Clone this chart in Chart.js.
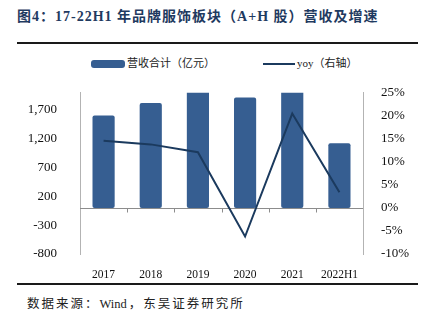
<!DOCTYPE html>
<html>
<head>
<meta charset="utf-8">
<script src="https://cdn.jsdelivr.net/npm/chart.js@4.4.1/dist/chart.umd.min.js"></script>
<style>
  html, body { margin: 0; padding: 0; background: #fff; }
  body { width: 431px; height: 322px; position: relative; overflow: hidden; }
  #title {
    position: absolute; left: 17px; top: 5px; white-space: nowrap;
    font: bold 14px "Liberation Serif", "Noto Sans CJK SC", serif;
    letter-spacing: 1px; color: #1F3A60;
  }
  #titleRule { position: absolute; left: 17px; width: 401px; top: 42px; height: 2px; background: #1a1a1a; }
  #legend {
    position: absolute; top: 55px; left: 0; width: 431px; height: 16px;
    font: 11px "Liberation Serif", "Noto Sans CJK SC", serif; color: #222;
  }
  .item { position: absolute; top: 0; height: 16px; line-height: 16px; white-space: nowrap; }
  .item i { display: inline-block; vertical-align: middle; margin-right: 2px; }
  #chartBox { position: absolute; left: 0; top: 70px; width: 431px; height: 210px; }
  #footRule { position: absolute; left: 17px; width: 401px; top: 283px; height: 2px; background: #1a1a1a; }
  #foot {
    position: absolute; left: 27px; top: 293px; white-space: nowrap;
    font: 12.5px "Liberation Serif", "Noto Sans CJK SC", serif; letter-spacing: 2px; color: #222;
  }
  #foot span { letter-spacing: 0; margin-right: 2px; }
</style>
</head>
<body>
<div id="title">图4：17-22H1 年品牌服饰板块（A+H 股）营收及增速</div>
<div id="titleRule"></div>
<div id="legend"></div>
<div id="chartBox"><canvas id="c" width="431" height="210"></canvas></div>
<div id="footRule"></div>
<div id="foot">数据来源：<span>Wind</span>，东吴证券研究所</div>

<script>
// data
const years = ['2017', '2018', '2019', '2020', '2021', '2022H1'];
const revenue = [1604, 1822, 2040, 1918, 2302, 1124];   // 亿元, 2019/2021 run past the top of the axis
const yoy = [14.6, 13.8, 12.1, -6.2, 20.5, 3.4];         // %
const leftTicks = [-800, -300, 200, 700, 1200, 1700];

const barColor = '#365E91';
const lineColor = '#1B3A5E';
const axisColor = '#B3B3B3';

// horizontal line through zero with small marks between categories
const zeroLine = {
  id: 'zeroLine',
  beforeDatasetsDraw(chart) {
    const { ctx, chartArea } = chart;
    const x = chart.scales.x;
    const y0 = Math.round(chart.scales.y.getPixelForValue(0)) + 0.5;
    const half = (x.getPixelForValue(1) - x.getPixelForValue(0)) / 2;
    ctx.save();
    ctx.strokeStyle = '#8C8C8C';
    ctx.lineWidth = 1;
    ctx.beginPath();
    ctx.moveTo(chartArea.left, y0);
    ctx.lineTo(chartArea.right, y0);
    for (let i = 0; i < years.length - 1; i++) {
      const px = Math.round(x.getPixelForValue(i) + half) + 0.5;
      ctx.moveTo(px, y0);
      ctx.lineTo(px, y0 + 4);
    }
    ctx.stroke();
    ctx.restore();
  }
};

const chart = new Chart(document.getElementById('c'), {
  data: {
    labels: years,
    datasets: [
      {
        type: 'line',
        label: 'yoy（右轴）',
        data: yoy,
        yAxisID: 'y1',
        borderColor: lineColor,
        borderWidth: 2,
        pointRadius: 0,
        tension: 0,
        order: 0
      },
      {
        type: 'bar',
        label: '营收合计（亿元）',
        data: revenue,
        yAxisID: 'y',
        backgroundColor: barColor,
        borderWidth: 0,
        borderRadius: 2,
        borderSkipped: false,
        categoryPercentage: 1,
        barPercentage: 0.47,
        order: 1
      }
    ]
  },
  options: {
    responsive: false,
    animation: false,
    layout: { padding: { top: 6, left: 0, right: 0, bottom: 0 } },
    plugins: { legend: { display: false }, tooltip: { enabled: false } },
    scales: {
      x: {
        grid: { display: false },
        border: { display: false },
        ticks: { color: '#111', font: { family: 'Liberation Serif', size: 11.5 }, padding: 6, maxRotation: 0 },
        afterFit(s) { s.height = 26; }
      },
      y: {
        position: 'left',
        min: -800,
        max: 2000,
        afterBuildTicks(s) { s.ticks = leftTicks.map(v => ({ value: v })); },
        grid: { display: false },
        border: { color: axisColor },
        ticks: {
          color: '#111', padding: 15,
          font: { family: 'Liberation Serif', size: 13 },
          callback: v => v.toLocaleString('en-US')
        },
        afterFit(s) { s.width = 80; }
      },
      y1: {
        position: 'right',
        min: -10,
        max: 25,
        grid: { display: false },
        border: { color: axisColor },
        ticks: {
          stepSize: 5, color: '#111', padding: 10,
          font: { family: 'Liberation Serif', size: 13 },
          callback: v => v + '%'
        },
        afterFit(s) { s.width = 68; }
      }
    }
  },
  plugins: [zeroLine]
});

// legend drawn in html so the spacing can follow the reference
const legend = document.getElementById('legend');
const items = [
  { left: 91, label: chart.data.datasets[1].label, mark: `<i style="width:34px;height:8px;border-radius:3px;background:${barColor}"></i>` },
  { left: 263, label: chart.data.datasets[0].label, mark: `<i style="width:32px;height:2px;background:${lineColor}"></i>` }
];
items.forEach(it => {
  const d = document.createElement('div');
  d.className = 'item';
  d.style.left = it.left + 'px';
  d.innerHTML = it.mark + '<span>' + it.label + '</span>';
  legend.appendChild(d);
});
</script>
</body>
</html>
